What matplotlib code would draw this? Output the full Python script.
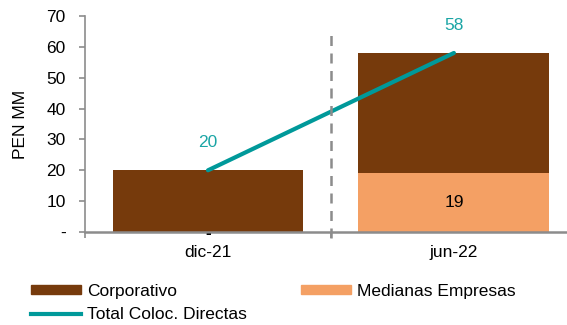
import matplotlib.pyplot as plt
from matplotlib.patches import Patch
from matplotlib.lines import Line2D

plt.rcParams["font.family"] = ["Liberation Sans", "DejaVu Sans"]

categories = ["dic-21", "jun-22"]
medianas = [0, 19]
corporativo = [20, 39]
total = [20, 58]

c_corp = "#763A0C"
c_med = "#F4A064"
c_tot = "#00999A"
c_grey = "#8C8C8C"
fs = 12.5

fig = plt.figure(figsize=(5.67, 3.25), dpi=100)
ax = fig.add_axes([0.150, 0.286, 0.85, 0.665])

x = list(range(len(categories)))
w = 0.776
ax.bar(x, medianas, width=w, color=c_med)
ax.bar(x, corporativo, width=w, bottom=medianas, color=c_corp)
ax.plot(x, total, color=c_tot, lw=3, solid_capstyle="round")

# labels
for xi, v in zip(x, total):
    ax.text(xi, v + 6.5, f"{v:.0f}", ha="center", va="bottom", color="#1AA5A5", fontsize=fs)
for xi, v in zip(x, medianas):
    if v > 0:
        ax.text(xi, v / 2, f"{v:.0f}", ha="center", va="center", color="black", fontsize=fs)
    else:
        ax.text(xi, -0.4, "-", ha="center", va="center", color="black", fontsize=fs,
                fontweight="bold")

# separator
ax.plot([0.5, 0.5], [-2, 66], color=c_grey, lw=1.8, ls=(0, (4, 3)), clip_on=False)

ax.set_xlim(-0.5, 1.46)
ax.set_ylim(0, 70)
ax.set_yticks(range(0, 71, 10))
ax.set_yticklabels(["-"] + [str(v) for v in range(10, 71, 10)], fontsize=fs)
ax.set_xticks(x)
ax.set_xticklabels(categories, fontsize=fs)
ax.set_xticks([-0.5, 0.5], minor=True)
ax.tick_params(axis="x", which="major", length=0, pad=9)
ax.tick_params(axis="x", which="minor", length=4, color=c_grey, width=1.2)
ax.tick_params(axis="y", length=4, color=c_grey, width=1.2, pad=10)
ax.set_ylabel("PEN MM", fontsize=fs, labelpad=13)

for s in ["top", "right"]:
    ax.spines[s].set_visible(False)
ax.spines["left"].set_color(c_grey)
ax.spines["bottom"].set_color(c_grey)
ax.spines["left"].set_linewidth(1.2)
ax.spines["bottom"].set_linewidth(1.8)

handles = [
    Patch(color=c_corp, label="Corporativo"),
    Line2D([], [], color=c_tot, lw=3, label="Total Coloc. Directas"),
    Patch(color=c_med, label="Medianas Empresas"),
]
fig.legend(handles=handles, loc="lower left", bbox_to_anchor=(0.027, -0.04), ncol=2,
           frameon=False, fontsize=fs, handlelength=2.9, handleheight=0.5,
           handletextpad=0.35, columnspacing=3.1, labelspacing=0.5)

fig.savefig("out.png", dpi=100)
